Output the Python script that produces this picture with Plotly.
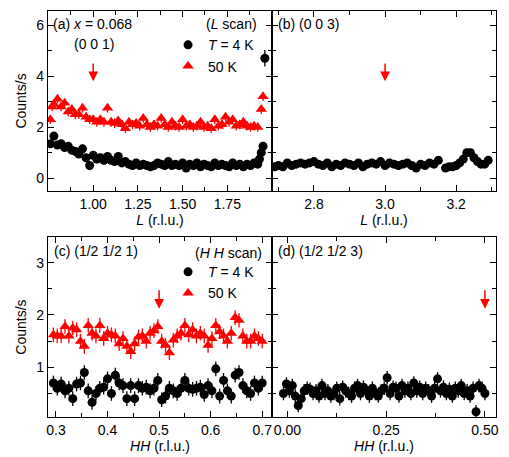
import plotly.graph_objects as go

# ---------------- data ----------------
# (a) L scan around (0 0 1)
a_x_4K = [0.76, 0.78, 0.80, 0.82, 0.84, 0.86, 0.88, 0.90, 0.92, 0.94, 0.96, 0.98,
          1.00, 1.02, 1.04, 1.06, 1.08, 1.10, 1.12, 1.14, 1.16, 1.18, 1.20, 1.22,
          1.24, 1.26, 1.28, 1.30, 1.32, 1.34, 1.36, 1.38, 1.40, 1.42, 1.44, 1.46,
          1.48, 1.50, 1.52, 1.54, 1.56, 1.58, 1.60, 1.62, 1.64, 1.66, 1.68, 1.70,
          1.72, 1.74, 1.76, 1.78, 1.80, 1.82, 1.84, 1.86, 1.88, 1.90, 1.92, 1.93,
          1.94, 1.95, 1.96]
a_y_4K = [1.35, 1.65, 1.30, 1.35, 1.20, 1.25, 1.10, 1.05, 0.95, 1.15, 0.80, 0.50,
          0.90, 0.75, 0.80, 0.70, 0.85, 0.70, 0.65, 0.85, 0.60, 0.65, 0.55, 0.50,
          0.60, 0.50, 0.55, 0.50, 0.45, 0.50, 0.60, 0.55, 0.50, 0.65, 0.50, 0.55,
          0.50, 0.60, 0.40, 0.55, 0.50, 0.60, 0.45, 0.55, 0.50, 0.45, 0.60, 0.50,
          0.55, 0.50, 0.45, 0.60, 0.50, 0.55, 0.45, 0.55, 0.50, 0.60, 0.55, 0.75,
          1.00, 1.25, 4.70]
a_e_4K = [0.16] * 62 + [0.32]

a_x_50K = [0.76, 0.77, 0.78, 0.80, 0.82, 0.84, 0.86, 0.88, 0.90, 0.92, 0.94, 0.96,
           0.98, 1.00, 1.02, 1.04, 1.06, 1.08, 1.10, 1.12, 1.14, 1.16, 1.18, 1.20,
           1.22, 1.24, 1.26, 1.28, 1.30, 1.32, 1.34, 1.36, 1.38, 1.40, 1.42, 1.44,
           1.46, 1.48, 1.50, 1.52, 1.54, 1.56, 1.58, 1.60, 1.62, 1.64, 1.66, 1.68,
           1.70, 1.72, 1.74, 1.76, 1.78, 1.80, 1.82, 1.84, 1.86, 1.88, 1.90, 1.92,
           1.94, 1.95]
a_y_50K = [2.30, 2.80, 2.90, 3.10, 2.80, 2.95, 2.60, 2.70, 2.50, 2.50, 2.75, 2.40,
           2.30, 2.30, 2.20, 2.30, 2.20, 2.75, 2.20, 2.15, 2.25, 2.10, 1.95, 2.20,
           2.10, 2.15, 2.05, 2.35, 2.10, 2.00, 2.10, 2.05, 2.35, 2.10, 2.00, 2.20,
           2.05, 2.00, 2.30, 2.05, 2.10, 2.00, 2.05, 2.20, 2.00, 2.05, 1.95, 2.30,
           2.05, 2.10, 2.40, 2.20, 2.30, 2.05, 2.10, 2.20, 2.05, 2.00, 2.05, 2.00,
           2.70, 3.20]
a_e_50K = [0.18] * 62

# (b) L scan around (0 0 3), T = 4 K
b_x_4K = [2.69, 2.70, 2.7125, 2.725, 2.7375, 2.75, 2.7625, 2.775, 2.7875, 2.80,
          2.8125, 2.825, 2.8375, 2.85, 2.8625, 2.875, 2.8875, 2.90, 2.9125, 2.925,
          2.9375, 2.95, 2.9625, 2.975, 2.9875, 3.00, 3.0125, 3.025, 3.0375, 3.05,
          3.0625, 3.075, 3.0875, 3.10, 3.1125, 3.125, 3.1375, 3.15, 3.17, 3.18,
          3.19, 3.20, 3.21, 3.22, 3.23, 3.24, 3.25, 3.26, 3.27, 3.28, 3.29]
b_y_4K = [0.45, 0.50, 0.45, 0.60, 0.50, 0.55, 0.60, 0.55, 0.60, 0.65,
          0.55, 0.50, 0.60, 0.45, 0.55, 0.50, 0.60, 0.55, 0.50, 0.60,
          0.45, 0.55, 0.60, 0.55, 0.65, 0.50, 0.60, 0.55, 0.50, 0.55,
          0.60, 0.50, 0.40, 0.55, 0.50, 0.60, 0.55, 0.70, 0.40, 0.45,
          0.45, 0.50, 0.60, 0.75, 1.00, 1.00, 0.80, 0.65, 0.55, 0.55, 0.70]
b_e_4K = [0.1] * 51

# (c) HH scan around (1/2 1/2 1)
c_x = [0.295, 0.3025, 0.31, 0.3175, 0.325, 0.3325, 0.34, 0.3475, 0.355, 0.3625,
       0.37, 0.3775, 0.385, 0.3925, 0.40, 0.4075, 0.415, 0.4225, 0.43, 0.4375,
       0.445, 0.4525, 0.46, 0.4675, 0.475, 0.4825, 0.49, 0.4975, 0.505, 0.5125,
       0.52, 0.5275, 0.535, 0.5425, 0.55, 0.5575, 0.565, 0.5725, 0.58, 0.5875,
       0.595, 0.6025, 0.61, 0.6175, 0.625, 0.6325, 0.64, 0.6475, 0.655, 0.6625,
       0.67, 0.6775, 0.685, 0.6925, 0.70]
c_y_50K = [1.62, 1.60, 1.60, 1.78, 1.60, 1.75, 1.72, 1.50, 1.40, 1.80,
           1.65, 1.60, 1.80, 1.55, 1.65, 1.62, 1.60, 1.45, 1.55, 1.40,
           1.30, 1.45, 1.58, 1.60, 1.50, 1.65, 1.70, 1.78, 1.50, 1.42,
           1.28, 1.52, 1.60, 1.65, 1.80, 1.62, 1.72, 1.60, 1.65, 1.60,
           1.42, 1.55, 1.80, 1.68, 1.60, 1.50, 1.65, 1.95, 1.90, 1.60,
           1.50, 1.50, 1.60, 1.55, 1.50]
c_y_4K = [0.70, 0.60, 0.68, 0.55, 0.60, 0.40, 0.68, 0.70, 0.90, 0.55,
          0.33, 0.50, 0.60, 0.62, 0.78, 0.50, 0.85, 0.70, 0.65, 0.40,
          0.65, 0.40, 0.65, 0.60, 0.62, 0.55, 0.60, 0.75, 0.38, 0.45,
          0.60, 0.55, 0.50, 0.60, 0.75, 0.60, 0.58, 0.60, 0.62, 0.48,
          0.65, 0.55, 0.97, 0.45, 0.75, 0.55, 0.45, 0.85, 0.90, 0.65,
          0.55, 0.50, 0.70, 0.60, 0.70]
c_e = [0.14] * 55

# (d) HH scan around (1/2 1/2 3), T = 4 K
d_x = [-0.01, -0.0025, 0.005, 0.0125, 0.02, 0.0275, 0.035, 0.0425, 0.05, 0.0575,
       0.065, 0.0725, 0.08, 0.0875, 0.095, 0.1025, 0.11, 0.1175, 0.125, 0.1325,
       0.14, 0.1475, 0.155, 0.1625, 0.17, 0.1775, 0.185, 0.1925, 0.20, 0.2075,
       0.215, 0.2225, 0.23, 0.2375, 0.245, 0.2525, 0.26, 0.2675, 0.275, 0.2825,
       0.29, 0.2975, 0.305, 0.3125, 0.32, 0.3275, 0.335, 0.3425, 0.35, 0.3575,
       0.365, 0.3725, 0.38, 0.3875, 0.395, 0.4025, 0.41, 0.4175, 0.425, 0.4325,
       0.44, 0.4475, 0.455, 0.4625, 0.47, 0.4775, 0.485, 0.4925, 0.50]
d_y_4K = [0.50, 0.68, 0.55, 0.65, 0.45, 0.27, 0.40, 0.55, 0.60, 0.58,
          0.50, 0.55, 0.45, 0.65, 0.50, 0.55, 0.45, 0.50, 0.60, 0.40,
          0.62, 0.55, 0.50, 0.45, 0.60, 0.65, 0.50, 0.62, 0.55, 0.45,
          0.60, 0.50, 0.45, 0.55, 0.60, 0.80, 0.50, 0.62, 0.60, 0.45,
          0.65, 0.55, 0.60, 0.50, 0.70, 0.55, 0.62, 0.50, 0.60, 0.55,
          0.45, 0.60, 0.78, 0.55, 0.62, 0.50, 0.58, 0.45, 0.60, 0.55,
          0.65, 0.50, 0.55, 0.45, 0.60, 0.15, 0.65, 0.60, 0.50]
d_e = [0.13] * 69

# arrow positions (x, tip y, tail y)
arrow_a = (1.00, 3.80, 4.55)
arrow_b = (3.00, 3.80, 4.55)
arrow_c = (0.50, 2.12, 2.50)
arrow_d = (0.50, 2.12, 2.50)

# ---------------- style ----------------
FONT = "Liberation Sans, Arial, sans-serif"
RED = "#ff0000"
BLACK = "#000000"


def pts(x, y, err, color, symbol, size, xa, ya, name=None, legend=None, show=False):
    return go.Scatter(
        x=x, y=y, mode="markers", xaxis=xa, yaxis=ya,
        marker=dict(color=color, symbol=symbol, size=size, line=dict(width=0)),
        error_y=dict(type="data", array=err, visible=True,
                     thickness=1.3, width=0, color=color),
        name=name, showlegend=show, legend=legend,
    )


fig = go.Figure()
fig.add_trace(pts(a_x_4K, a_y_4K, a_e_4K, BLACK, "circle", 9, "x", "y",
                  "<i>T</i> = 4 K", "legend", True))
fig.add_trace(pts(a_x_50K, a_y_50K, a_e_50K, RED, "triangle-up", 10, "x", "y",
                  "50 K", "legend", True))
fig.add_trace(pts(b_x_4K, b_y_4K, b_e_4K, BLACK, "circle", 9, "x2", "y2"))
fig.add_trace(pts(c_x, c_y_4K, c_e, BLACK, "circle", 9, "x3", "y3",
                  "<i>T</i> = 4 K", "legend2", True))
fig.add_trace(pts(c_x, c_y_50K, c_e, RED, "triangle-up", 10, "x3", "y3",
                  "50 K", "legend2", True))
fig.add_trace(pts(d_x, d_y_4K, d_e, BLACK, "circle", 9, "x4", "y4"))

axis_common = dict(
    showline=True, linecolor="black", linewidth=1.3, mirror="ticks",
    ticks="inside", ticklen=6, tickwidth=1.2, tickcolor="black",
    showgrid=False, zeroline=False,
    tickfont=dict(family=FONT, size=14, color="black"),
)
minor_common = dict(ticks="inside", ticklen=3.5, tickwidth=1.2, tickcolor="black", showgrid=False)

top_dom = [0.5567, 1.0]
bot_dom = [0.0, 0.4433]
title_font = dict(family=FONT, size=14, color="black")

fig.update_layout(
    width=509, height=457,
    margin=dict(l=48, r=13, t=11, b=40, autoexpand=False),
    plot_bgcolor="white", paper_bgcolor="white",
    font=dict(family=FONT, size=14, color="black"),
    xaxis=dict(axis_common, domain=[0, 0.5], anchor="y", range=[0.747, 2.0],
               tickvals=[1.0, 1.25, 1.5, 1.75], ticktext=["1.00", "1.25", "1.50", "1.75"],
               minor=dict(minor_common, tickvals=[0.875, 1.125, 1.375, 1.625, 1.875]),
               title=dict(text="<i>L</i> (r.l.u.)", font=title_font, standoff=2)),
    yaxis=dict(axis_common, domain=top_dom, anchor="x", range=[-0.5, 6.55],
               tickvals=[0, 2, 4, 6],
               minor=dict(minor_common, tickvals=[1, 3, 5]),
               title=dict(text="Counts/s", font=title_font, standoff=6)),
    xaxis2=dict(axis_common, domain=[0.5, 1.0], anchor="y2", range=[2.682, 3.312],
                tickvals=[2.8, 3.0, 3.2], ticktext=["2.8", "3.0", "3.2"],
                minor=dict(minor_common, tickvals=[2.7, 2.9, 3.1, 3.3]),
                title=dict(text="<i>L</i> (r.l.u.)", font=title_font, standoff=2)),
    yaxis2=dict(axis_common, domain=top_dom, anchor="x2", range=[-0.5, 6.55],
                tickvals=[0, 2, 4, 6], showticklabels=False,
                minor=dict(minor_common, tickvals=[1, 3, 5])),
    xaxis3=dict(axis_common, domain=[0, 0.5], anchor="y3", range=[0.2845, 0.719],
                tickvals=[0.3, 0.4, 0.5, 0.6, 0.7],
                ticktext=["0.3", "0.4", "0.5", "0.6", "0.7"],
                minor=dict(minor_common, tickvals=[0.35, 0.45, 0.55, 0.65]),
                title=dict(text="<i>HH</i> (r.l.u.)", font=title_font, standoff=2)),
    yaxis3=dict(axis_common, domain=bot_dom, anchor="x3", range=[0.05, 3.49],
                tickvals=[1, 2, 3],
                minor=dict(minor_common, tickvals=[0.5, 1.5, 2.5]),
                title=dict(text="Counts/s", font=title_font, standoff=6)),
    xaxis4=dict(axis_common, domain=[0.5, 1.0], anchor="y4", range=[-0.039, 0.528],
                tickvals=[0.0, 0.25, 0.5], ticktext=["0.00", "0.25", "0.50"],
                minor=dict(minor_common, tickvals=[0.125, 0.375]),
                title=dict(text="<i>HH</i> (r.l.u.)", font=title_font, standoff=2)),
    yaxis4=dict(axis_common, domain=bot_dom, anchor="x4", range=[0.05, 3.49],
                tickvals=[1, 2, 3], showticklabels=False,
                minor=dict(minor_common, tickvals=[0.5, 1.5, 2.5])),
    legend=dict(x=0.268, y=0.955, xanchor="left", yanchor="top",
                bgcolor="rgba(0,0,0,0)", font=dict(family=FONT, size=14),
                tracegroupgap=0, itemwidth=30),
    legend2=dict(x=0.268, y=0.396, xanchor="left", yanchor="top",
                 bgcolor="rgba(0,0,0,0)", font=dict(family=FONT, size=14),
                 tracegroupgap=0, itemwidth=30),
    showlegend=True,
)

ann_font = dict(family=FONT, size=14, color="black")
texts = [
    (0.012, 0.925, "left", "(a) <i>x</i> = 0.068", "x", "y"),
    (0.205, 0.815, "center", "(0 0 1)", "x", "y"),
    (0.94, 0.925, "right", "(<i>L</i> scan)", "x", "y"),
    (0.016, 0.925, "left", "(b) (0 0 3)", "x2", "y2"),
    (0.016, 0.925, "left", "(c) (1/2 1/2 1)", "x3", "y3"),
    (0.965, 0.91, "right", "(<i>H H</i> scan)", "x3", "y3"),
    (0.016, 0.925, "left", "(d) (1/2 1/2 3)", "x4", "y4"),
]
for xv, yv, anc, txt, xa, ya in texts:
    fig.add_annotation(xref=f"{xa} domain", yref=f"{ya} domain", x=xv, y=yv,
                       xanchor=anc, yanchor="middle", text=txt, showarrow=False,
                       font=ann_font)

for (xv, tip, tail), xa, ya in [(arrow_a, "x", "y"), (arrow_b, "x2", "y2"),
                                 (arrow_c, "x3", "y3"), (arrow_d, "x4", "y4")]:
    fig.add_annotation(xref=xa, yref=ya, axref=xa, ayref=ya, x=xv, y=tip,
                       ax=xv, ay=tail, text="", showarrow=True, arrowhead=2,
                       arrowsize=1.3, arrowwidth=1.5, arrowcolor=RED, standoff=0)

fig.write_html("out.html")
